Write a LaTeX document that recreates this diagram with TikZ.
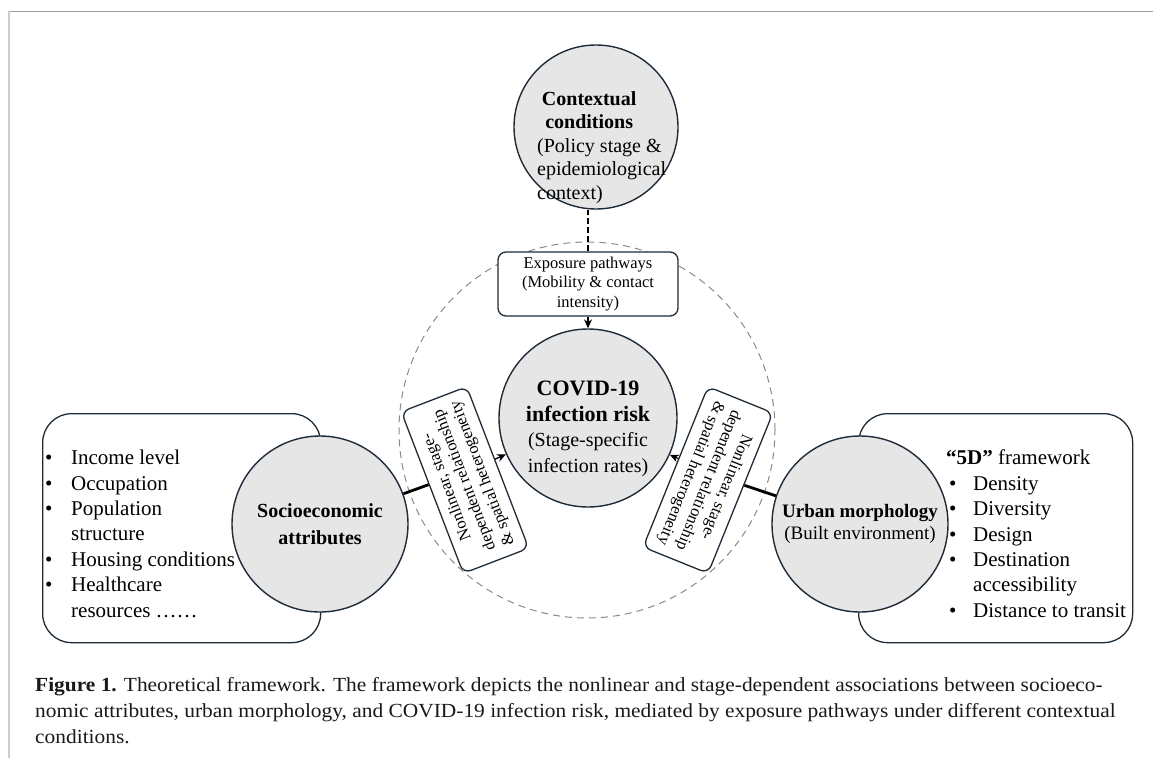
\documentclass[tikz,border=0pt]{standalone}
\usepackage{fontspec}
\setmainfont{Liberation Serif}
\newfontfamily\capfont{Liberation Serif}[FakeStretch=1.07]
\usetikzlibrary{calc,arrows.meta}
\definecolor{edge}{HTML}{1E2B38}
\definecolor{cfill}{HTML}{E6E6E6}
\definecolor{ringgray}{HTML}{8A8A8A}
\begin{document}
\begin{tikzpicture}[x=1pt,y=-1pt,
  bub/.style={circle, draw=edge, line width=1.4pt, fill=cfill, inner sep=0pt},
  sbox/.style={draw=edge, line width=1.3pt, fill=white, rounded corners=8pt, inner sep=0pt, align=center},
  panel/.style={draw=edge, line width=1.3pt, fill=white, rounded corners=29pt, inner sep=0pt},
  link/.style={line width=2.8pt, black},
  flow/.style={-{Stealth[length=9pt,width=8pt]}, line width=1.3pt, black},
  txt/.style={inner sep=0pt, align=left},
]
\useasboundingbox (0,0) rectangle (1153,758);
% page frame
\draw[color=gray!75, line width=1pt] (8,11) -- (1153,11);
\draw[color=gray!40, line width=2pt] (9,11) -- (9,758);

% dashed ring
\node[circle, draw=ringgray, dash pattern=on 7pt off 5pt, line width=1pt, minimum size=376pt, inner sep=0pt] (ring) at (587,430) {};

% side panels
\node[panel, minimum width=278pt, minimum height=229pt, anchor=north west] (lpanel) at (42,413) {};
\node[panel, minimum width=274pt, minimum height=229pt, anchor=north west] (rpanel) at (858,413) {};

% circles
\node[bub, minimum size=164pt] (ctx) at (596,127) {};
\node[bub, minimum size=178pt] (cov) at (588,418) {};
\node[bub, minimum size=176pt, align=center, font=\bfseries\fontsize{20}{27}\selectfont] (soc) at (320,524) {Socioeconomic\\attributes};
\node[bub, minimum size=176pt, align=center, font=\fontsize{19}{22}\selectfont] (urb) at (860,524) {\textbf{Urban morphology}\\(Built environment)};

% texts inside the upper circles
\node[txt, anchor=north west, font=\fontsize{20}{23.5}\selectfont] (ctxtext) at (537,91)
  {\makebox[104pt]{\textbf{Contextual}}\\\makebox[104pt]{\textbf{conditions}}\\(Policy stage \&\\epidemiological\\context)};
\node[inner sep=0pt, align=center, font=\fontsize{20}{25.5}\selectfont] (covtext) at (588,429)
  {\textbf{\fontsize{22}{25.5}\selectfont COVID-19}\\\textbf{\fontsize{22}{25.5}\selectfont infection risk}\\(Stage-specific\\infection rates)};

% exposure box
\node[sbox, minimum width=180pt, minimum height=64pt, font=\fontsize{16.5}{19.5}\selectfont] (exp) at (588,284)
  {Exposure pathways\\(Mobility \& contact\\intensity)};

% rotated relation boxes
\node[sbox, rotate=111, minimum width=173pt, minimum height=70pt, font=\fontsize{16.5}{19}\selectfont] (lbox) at (465,480)
  {Nonlinear, stage-\\dependent relationship\\\& spatial heterogeneity};
\node[sbox, rotate=-112, minimum width=173pt, minimum height=70pt, font=\fontsize{16.5}{19}\selectfont] (rbox) at (708,480)
  {Nonlinear, stage-\\dependent relationship\\\& spatial heterogeneity};

% connectors
\draw[line width=2.6pt, dash pattern=on 6pt off 3pt] (exp.north) -- (exp.north |- ctx.south);
\draw[flow] (exp.south) -- (cov.north);
\draw[link] (soc) -- ($(lbox.north)!0.1!(lbox.north east)$);
\draw[flow] ($(lbox.south)!0.1!(lbox.south east)$) -- (cov);
\draw[link] (urb) -- ($(rbox.north)!0.1!(rbox.north west)$);
\draw[flow] ($(rbox.south)!0.1!(rbox.south west)$) -- (cov);

% panel lists
\node[txt, anchor=north west, font=\fontsize{21}{25.4}\selectfont] (llist) at (45,450)
  {\makebox[26pt][l]{•}Income level\\
   \makebox[26pt][l]{•}Occupation\\
   \makebox[26pt][l]{•}Population\\
   \hspace*{26pt}structure\\
   \makebox[26pt][l]{•}Housing conditions\\
   \makebox[26pt][l]{•}Healthcare\\
   \hspace*{26pt}resources ……};
\node[txt, anchor=north west, font=\fontsize{21}{25.4}\selectfont] (rlist) at (946,450)
  {\textbf{“5D”} framework\\
   \hspace*{3pt}\makebox[24pt][l]{•}Density\\
   \hspace*{3pt}\makebox[24pt][l]{•}Diversity\\
   \hspace*{3pt}\makebox[24pt][l]{•}Design\\
   \hspace*{3pt}\makebox[24pt][l]{•}Destination\\
   \hspace*{27pt}accessibility\\
   \hspace*{3pt}\makebox[24pt][l]{•}Distance to transit};

% caption
\node[txt, anchor=north west, font=\capfont\fontsize{20}{26}\selectfont, text=black!90] (caption) at (35,677)
  {\textbf{Figure 1.} Theoretical framework. The framework depicts the nonlinear and stage-dependent associations between socioeco-\\
   nomic attributes, urban morphology, and COVID-19 infection risk, mediated by exposure pathways under different contextual\\
   conditions.};
\end{tikzpicture}
\end{document}
